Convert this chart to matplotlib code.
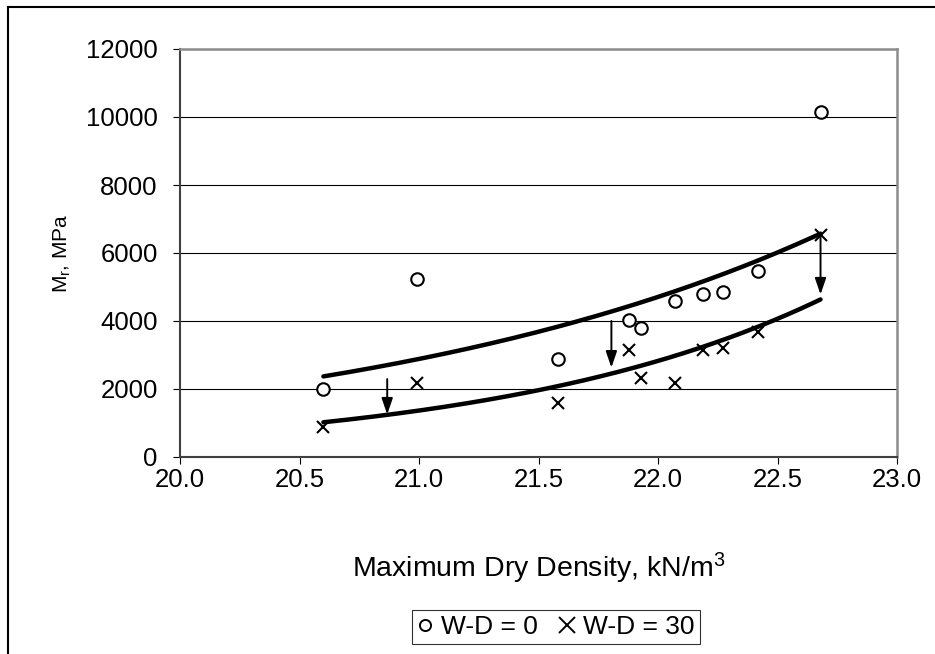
import numpy as np
import matplotlib
matplotlib.use("Agg")
import matplotlib.pyplot as plt
from matplotlib.lines import Line2D

plt.rcParams["font.family"] = ["Liberation Sans", "DejaVu Sans"]
plt.rcParams["mathtext.default"] = "regular"

# data
density = [20.60, 20.99, 21.58, 21.88, 21.93, 22.07, 22.19, 22.27, 22.42, 22.68]
mr_wd0 = [2000, 5240, 2870, 4030, 3790, 4590, 4780, 4840, 5470, 10140]
mr_wd30 = [880, 2190, 1580, 3150, 2310, 2190, 3140, 3220, 3690, 6540]

# arrows: x, start, end
arrow_x = [20.867, 21.805, 22.68]
arrow_y0 = [2290, 4000, 6450]
arrow_y1 = [1250, 2630, 4780]

x = np.array(density)

def expfit(xv, yv):
    # exponential trendline (like Excel): ln y = ln a + b x
    b, lna = np.polyfit(xv, np.log(yv), 1)
    return lambda t: np.exp(lna + b * t)

fit0 = expfit(x, np.array(mr_wd0))
fit30 = expfit(x, np.array(mr_wd30))
xs = np.linspace(x.min(), x.max(), 200)

fig = plt.figure(figsize=(9.35, 6.54), dpi=100)
ax = fig.add_axes([180 / 935, 1 - 457 / 654, 717 / 935, 408 / 654])

ax.set_xlim(20.0, 23.0)
ax.set_ylim(0, 12000)
ax.set_xticks(np.arange(20.0, 23.01, 0.5))
ax.set_xticklabels([f"{v:.1f}" for v in np.arange(20.0, 23.01, 0.5)])
ax.set_yticks(np.arange(0, 12001, 2000))
ax.grid(axis="y", color="black", linewidth=0.8)
ax.set_axisbelow(True)

for side in ["left", "bottom"]:
    ax.spines[side].set_color("#404040")
    ax.spines[side].set_linewidth(1.5)
for side in ["top", "right"]:
    ax.spines[side].set_color("#8c8c8c")
    ax.spines[side].set_linewidth(1.8)

ax.tick_params(axis="both", direction="out", length=5, width=0.8, color="black",
               labelsize=18.5)
ax.tick_params(axis="y", pad=11)
ax.tick_params(axis="x", pad=3)

ax.plot(xs, fit0(xs), color="black", linewidth=3.2, solid_capstyle="round", zorder=3)
ax.plot(xs, fit30(xs), color="black", linewidth=3.2, solid_capstyle="round", zorder=3)

ax.plot(density, mr_wd0, linestyle="none", marker="o", markersize=9,
        markerfacecolor="white", markeredgecolor="black", markeredgewidth=1.5,
        label="W-D = 0", zorder=4)
ax.plot(density, mr_wd30, linestyle="none", marker="x", markersize=9,
        color="black", markeredgewidth=1.5, label="W-D = 30", zorder=4)

for xa, y0, y1 in zip(arrow_x, arrow_y0, arrow_y1):
    ax.annotate("", xy=(xa, y1), xytext=(xa, y0),
                arrowprops=dict(arrowstyle="-|>,head_length=0.7,head_width=0.24",
                                mutation_scale=14, color="black", lw=1.4,
                                shrinkA=0, shrinkB=0), zorder=5)

ax.set_xlabel("Maximum Dry Density, kN/m$^3$", fontsize=20.5, labelpad=42)
ax.set_ylabel("M$_r$, MPa", fontsize=15, labelpad=9)

leg = fig.legend(handles=[
    Line2D([], [], linestyle="none", marker="o", markersize=8, markerfacecolor="white",
           markeredgecolor="black", markeredgewidth=1.4, label="W-D = 0"),
    Line2D([], [], linestyle="none", marker="x", markersize=11, color="black",
           markeredgewidth=1.4, label="W-D = 30")],
    loc="center", bbox_to_anchor=(556 / 935, 1 - 627 / 654), ncol=2,
    fontsize=19, frameon=True, fancybox=False, edgecolor="black",
    handlelength=0.6, handletextpad=0.3, columnspacing=0.8, borderpad=0.2)
leg.get_frame().set_linewidth(0.8)

# outer chart border (top and left edges visible)
fig.add_artist(Line2D([8 / 935, 8 / 935], [0, 1 - 7 / 654], color="black", lw=1.5,
                      transform=fig.transFigure))
fig.add_artist(Line2D([8 / 935, 1], [1 - 7 / 654, 1 - 7 / 654], color="black", lw=1.5,
                      transform=fig.transFigure))

fig.savefig("out.png", dpi=100)
plt.close(fig)
